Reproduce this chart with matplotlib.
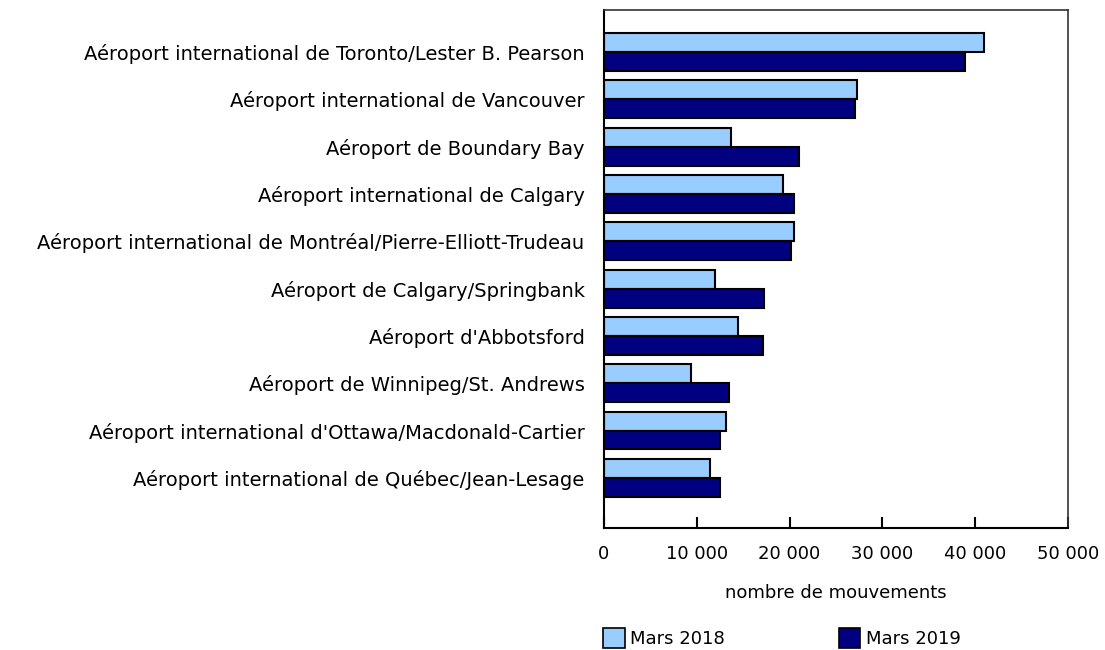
# mouvements d'aéronefs, mars 2018 vs mars 2019

import matplotlib
matplotlib.use("Agg")
import matplotlib.pyplot as plt
from matplotlib.patches import Patch
import numpy as np

airports = [
    "Aéroport international de Toronto/Lester B. Pearson",
    "Aéroport international de Vancouver",
    "Aéroport de Boundary Bay",
    "Aéroport international de Calgary",
    "Aéroport international de Montréal/Pierre-Elliott-Trudeau",
    "Aéroport de Calgary/Springbank",
    "Aéroport d'Abbotsford",
    "Aéroport de Winnipeg/St. Andrews",
    "Aéroport international d'Ottawa/Macdonald-Cartier",
    "Aéroport international de Québec/Jean-Lesage",
]
mars_2018 = [40900, 27300, 13700, 19300, 20500, 12000, 14400, 9350, 13100, 11400]
mars_2019 = [38900, 27000, 21000, 20500, 20100, 17200, 17100, 13450, 12500, 12500]
xticks = [0, 10000, 20000, 30000, 40000, 50000]
xticklabels = ["0", "10 000", "20 000", "30 000", "40 000", "50 000"]

light = "#99CCFF"
dark = "#000080"

plt.rcParams["font.family"] = "DejaVu Sans"

fig = plt.figure(figsize=(11.05, 6.5), dpi=100)
ax = fig.add_axes([604 / 1105, 1 - 528 / 650, 464 / 1105, 518 / 650])

y = np.arange(len(airports))
h = 0.40
ax.barh(y - h / 2, mars_2018, height=h, color=light, edgecolor="black", linewidth=1.5)
ax.barh(y + h / 2, mars_2019, height=h, color=dark, edgecolor="black", linewidth=1.5)

ax.set_xlim(0, 50000)
ax.set_ylim(10.06, -0.89)
ax.set_yticks(y)
ax.set_yticklabels(airports, fontsize=14)
ax.tick_params(axis="y", length=0, pad=14)

ax.set_xticks(xticks)
ax.set_xticklabels(xticklabels, fontsize=13)
ax.tick_params(axis="x", direction="in", length=8, width=1.5, pad=12)
ax.set_xlabel("nombre de mouvements", fontsize=13, labelpad=15)

for s in ax.spines.values():
    s.set_linewidth(1.2)
    s.set_color("#333333")
ax.spines["bottom"].set_color("black")
ax.spines["bottom"].set_linewidth(1.5)
ax.spines["left"].set_color("black")
ax.spines["left"].set_linewidth(1.5)

handles = [Patch(facecolor=light, edgecolor="black", linewidth=1.2, label="Mars 2018"),
           Patch(facecolor=dark, edgecolor="black", linewidth=1.2, label="Mars 2019")]
fig.legend(handles=handles, loc="center", bbox_to_anchor=(782 / 1105, 1 - 638 / 650),
           ncol=2, frameon=False, fontsize=13, handlelength=1.2, handleheight=1.3,
           handletextpad=0.3, columnspacing=6.3)

fig.savefig("out.png", dpi=100)
